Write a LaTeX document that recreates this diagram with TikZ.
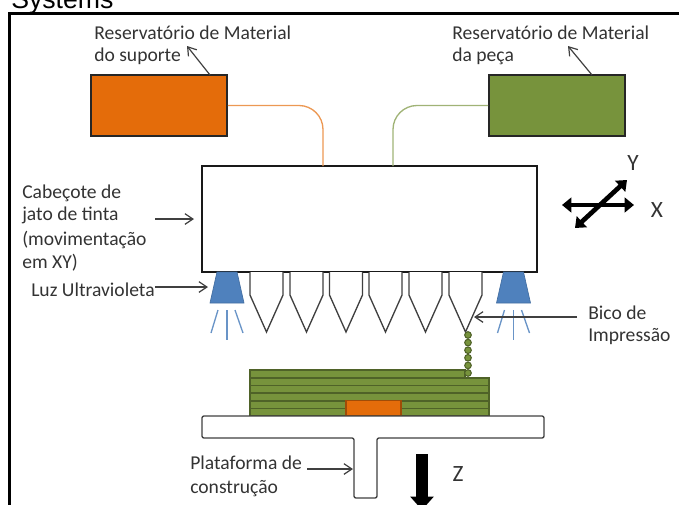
\documentclass[tikz,border=0pt]{standalone}
\usepackage{fontspec}
\setmainfont{Carlito}
\newfontfamily\arialfont{Liberation Sans}
\usepackage{xcolor}
\usetikzlibrary{arrows.meta, positioning, shapes.geometric}
\definecolor{suporteorange}{HTML}{E46C0A}
\definecolor{pecagreen}{HTML}{77933C}
\definecolor{layergreen}{HTML}{4F6228}
\definecolor{lampblue}{HTML}{4F81BD}
\definecolor{textgray}{HTML}{333333}
\tikzset{
    tank/.style={draw=black!85, line width=1.3pt, minimum width=102pt, minimum height=46pt, inner sep=0pt},
    feed/.style={line width=1pt, rounded corners=18pt},
    label/.style={font=\fontsize{14.7}{17}\selectfont, text=textgray, align=left, inner sep=0pt, anchor=west, text depth=0pt},
    axislabel/.style={font=\fontsize{17.5}{18}\selectfont, text=textgray, inner sep=0pt},
    pointer/.style={-{Straight Barb[length=6pt,width=8pt]}, line width=0.9pt, draw=black!75},
    nozzle/.style={draw=black!75, line width=1pt, fill=white},
    lamp/.style={fill=lampblue, draw=lampblue!85!black, line width=0.5pt},
    ray/.style={draw=lampblue!85, line width=1pt},
    layer/.style={draw=layergreen, fill=pecagreen, line width=1.1pt},
    axis/.style={{Triangle[length=7pt,width=11pt]}-{Triangle[length=7pt,width=11pt]}, line width=3pt, black},
}
\begin{document}
\begin{tikzpicture}[x=0.75pt, y=-0.75pt]
    \useasboundingbox (0,0) rectangle (679,504);
    \clip (0,0) rectangle (679,504);

    % Title left over from the page
    \node[font=\arialfont\fontsize{20}{20}\selectfont, anchor=base west, inner sep=0pt] (title) at (11,8) {Systems};

    % Frame
    \draw[line width=2.3pt] (9.5,510) -- (9.5,13.5) -- (685,13.5);

    % Material tanks
    \node[tank, fill=suporteorange] (suporte) at (159,105.5) {};
    \node[tank, fill=pecagreen] (peca) at (557,105.5) {};
    \node[label] (suportetxt) at (94,33) {Reservatório de Material};
    \node[label] (suportetxtb) at (94,55) {do suporte};
    \node[label] (pecatxt) at (452,33) {Reservatório de Material};
    \node[label] (pecatxtb) at (452,55) {da peça};

    % Print head
    \node[draw=black!90, line width=1.3pt, minimum width=251pt, minimum height=79.5pt, inner sep=0pt, fill=white] (head) at (369.5,219) {};
    \coordinate (headinA) at (323,166);
    \coordinate (headinB) at (393,166);
    \draw[feed, draw=suporteorange!70] (suporte.east) -| (headinA);
    \draw[feed, draw=pecagreen!70] (peca.west) -| (headinB);

    % Pointers of the tanks
    \coordinate (suportetop) at (210,75);
    \coordinate (suportetip) at (187,46);
    \coordinate (pecatop) at (592,75);
    \coordinate (pecatip) at (568,46);
    \draw[pointer] (suportetop) -- (suportetip);
    \draw[pointer] (pecatop) -- (pecatip);

    % Nozzles
    \foreach \x/\name in {250/a, 290/b, 329.5/c, 369/d, 409/e, 449/f} {
        \draw[nozzle] (\x,272) -- (\x,295) -- (\x+16.5,332) coordinate (tip\name) -- (\x+33,295) -- (\x+33,272);
    }

    % UV lamps and their rays
    \foreach \x/\name in {227/lampl, 513.5/lampr} {
        \draw[lamp] (\x-10,272) -- (\x+10,272) -- (\x+17,303) -- (\x-17,303) -- cycle;
        \coordinate (\name) at (\x-17,287);
        \draw[ray] (\x,310) -- (\x,340);
        \draw[ray] (\x-9,310) -- (\x-16,333);
        \draw[ray] (\x+8,310) -- (\x+16,333);
    }

    % Side labels
    \node[label] (cabecotea) at (22,192) {Cabeçote de};
    \node[label] (cabecoteb) at (22,214) {jato de tinta};
    \node[label] (cabecotec) at (22,238) {(movimentação};
    \node[label] (cabecoted) at (22,261) {em XY)};
    \node[label] (luz) at (31,290) {Luz Ultravioleta};
    \node[label] (bicoa) at (588,313) {Bico de};
    \node[label] (bicob) at (588,335) {Impressão};
    \node[label] (plataformaa) at (190,463) {Plataforma de};
    \node[label] (plataformab) at (190,487) {construção};

    \coordinate (cabecotefrom) at (155,219);
    \coordinate (cabecoteto) at (194,219);
    \coordinate (luzto) at (208,287);
    \coordinate (bicofrom) at (577,317);
    \coordinate (bicoto) at (474,317);
    \coordinate (plataformafrom) at (307,469);
    \coordinate (plataformato) at (353,469);
    \draw[pointer] (cabecotefrom) -- (cabecoteto);
    \draw[pointer] (luz.east |- luzto) -- (luzto);
    \draw[pointer] (bicofrom) -- (bicoto);
    \draw[pointer] (plataformafrom) -- (plataformato);

    % Printed part
    \foreach \y in {401,393,385.5,378} {
        \draw[layer] (250,\y) rectangle (489,\y+7.5);
    }
    \draw[layer] (250,408.5) rectangle (489,416);
    \draw[layer] (250,370) rectangle (465,378);
    \draw[draw=suporteorange!70!black, fill=suporteorange, line width=1pt] (346,400.5) rectangle (401,416);

    % Droplets
    \foreach \y in {335,342.6,350.2,357.8,365.4,373} {
        \draw[draw=layergreen, fill=pecagreen, line width=0.8pt] (468,\y) circle[radius=3.3];
    }

    % Build platform
    \draw[draw=black!75, line width=1pt, fill=white, rounded corners=1.5pt]
        (202,416) -- (544,416) -- (544,438) -- (377,438) -- (377,498) -- (354,498) -- (354,438) -- (202,438) -- cycle;

    % Axes
    \coordinate (xleft) at (562,205);
    \coordinate (xright) at (634,205);
    \coordinate (yleft) at (575,228);
    \coordinate (yright) at (627,180);
    \draw[axis] (xleft) -- (xright);
    \draw[axis, line width=3.5pt] (yleft) -- (yright);
    \node[axislabel] (ylabel) at (633,163) {Y};
    \node[axislabel] (xlabel) at (657,210) {X};
    \coordinate (ztop) at (422,454);
    \coordinate (ztip) at (422,510);
    \draw[line width=9pt, -{Triangle[length=10pt,width=17pt]}] (ztop) -- (ztip);
    \node[axislabel] (zlabel) at (458,474) {Z};
\end{tikzpicture}
\end{document}
